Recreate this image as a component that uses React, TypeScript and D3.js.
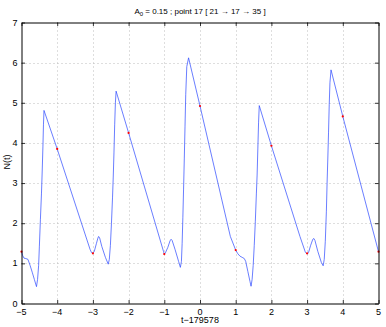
import { useEffect, useRef } from "react";
import * as d3 from "d3";

const tValues = [
  -5.0, -4.97, -4.93, -4.88, -4.82, -4.76, -4.7, -4.64, -4.58, -4.55, -4.52, -4.5, -4.47,
  -4.44, -4.42, -4.4, -4.385, -4.37, -4.0, -3.08, -3.04, -3.0, -2.96, -2.9, -2.86, -2.84,
  -2.81, -2.75, -2.65, -2.57, -2.54, -2.51, -2.48, -2.45, -2.43, -2.41, -2.39, -2.37,
  -2.35, -2.0, -1.02, -1.0, -0.97, -0.9, -0.84, -0.81, -0.78, -0.7, -0.6, -0.55, -0.52,
  -0.5, -0.48, -0.46, -0.44, -0.42, -0.4, -0.37, -0.32, 0.0, 0.85, 1.0, 1.06, 1.12, 1.18,
  1.24, 1.28, 1.34, 1.4, 1.43, 1.46, 1.49, 1.52, 1.55, 1.58, 1.6, 1.62, 1.64, 1.66, 2.0,
  2.8, 2.95, 3.0, 3.04, 3.1, 3.16, 3.19, 3.22, 3.3, 3.4, 3.45, 3.48, 3.51, 3.54, 3.56,
  3.58, 3.6, 3.62, 3.64, 3.67, 4.0, 5.0,
];
const nValues = [
  1.29, 1.2, 1.13, 1.12, 1.1, 0.95, 0.78, 0.6, 0.42, 0.6, 0.95, 1.41, 2.1,
  2.75, 3.3, 3.9, 4.45, 4.81, 3.85, 1.35, 1.27, 1.25, 1.3, 1.5, 1.63, 1.67,
  1.63, 1.42, 1.15, 0.98, 1.1, 1.45, 2.0, 2.65, 3.15, 3.75, 4.45, 5.0,
  5.29, 4.25, 1.29, 1.23, 1.26, 1.4, 1.56, 1.6, 1.57, 1.35, 1.05, 0.9, 1.05,
  1.5, 2.15, 2.85, 3.6, 4.4, 5.2, 5.9, 6.12, 4.92, 1.67, 1.33, 1.24, 1.18, 1.15,
  1.12, 1.05, 0.8, 0.55, 0.43, 0.6, 0.95, 1.45, 2.05, 2.75, 3.2, 3.85, 4.5, 4.93, 3.93,
  1.67, 1.28, 1.23, 1.27, 1.45, 1.6, 1.62, 1.57, 1.3, 1.02, 0.94, 1.1, 1.55, 2.3, 3.0,
  3.6, 4.25, 4.95, 5.5, 5.82, 4.66, 1.29,
];

// red markers at whole time steps
const markT = [-5, -4, -3, -2, -1, 0, 1, 2, 3, 4, 5];
const markN = [1.29, 3.85, 1.25, 4.25, 1.23, 4.92, 1.33, 3.93, 1.25, 4.66, 1.29];

const xTicks = [-5, -4, -3, -2, -1, 0, 1, 2, 3, 4, 5];
const yTicks = [0, 1, 2, 3, 4, 5, 6, 7];

const W = 386;
const H = 327;
const FONT = "'Liberation Sans', Arial, sans-serif";

export default function App() {
  const svgRef = useRef<SVGSVGElement>(null);

  useEffect(() => {
    const svg = d3.select(svgRef.current);
    svg.selectAll("*").remove();

    const left = 21.5, right = 378.5, top = 22.5, bottom = 303.5;

    const x = d3.scaleLinear().domain([-5, 5]).range([left, right]);
    const y = d3.scaleLinear().domain([0, 7]).range([bottom, top]);

    svg.append("rect").attr("width", W).attr("height", H).attr("fill", "#fff");

    // dotted grid
    const grid = svg.append("g").attr("stroke", "#bdbdbd").attr("stroke-dasharray", "1,3").attr("stroke-width", 1);
    xTicks.slice(1, -1).forEach((t) => {
      grid.append("line").attr("x1", Math.round(x(t)) + 0.5).attr("x2", Math.round(x(t)) + 0.5).attr("y1", top).attr("y2", bottom);
    });
    yTicks.slice(1, -1).forEach((v) => {
      grid.append("line").attr("y1", Math.round(y(v)) + 0.5).attr("y2", Math.round(y(v)) + 0.5).attr("x1", left).attr("x2", right);
    });

    // data line
    const line = d3
      .line<number>()
      .x((_, i) => x(tValues[i]))
      .y((d) => y(d));

    svg
      .append("path")
      .datum(nValues)
      .attr("fill", "none")
      .attr("stroke", "#2a46ff")
      .attr("stroke-width", 0.7)
      .attr("stroke-linejoin", "round")
      .attr("d", line);

    svg
      .append("g")
      .selectAll("circle")
      .data(markN)
      .enter()
      .append("circle")
      .attr("cx", (_, i) => x(markT[i]))
      .attr("cy", (d) => y(d))
      .attr("r", 1.1)
      .attr("fill", "#ff0000");

    // box with inward ticks (matlab style)
    const tick = 3.5;
    const axes = [
      { g: d3.axisBottom(x), tr: `translate(0,${bottom})` },
      { g: d3.axisTop(x), tr: `translate(0,${top})` },
      { g: d3.axisLeft(y), tr: `translate(${left},0)` },
      { g: d3.axisRight(y), tr: `translate(${right},0)` },
    ];
    axes.forEach(({ g, tr }, k) => {
      const isX = k < 2;
      const axis = (g as d3.Axis<number>)
        .tickValues(isX ? xTicks : yTicks)
        .tickSizeInner(-tick)
        .tickSizeOuter(0)
        .tickFormat(() => "");
      const sel = svg.append("g").attr("transform", tr).call(axis as any);
      sel.select(".domain").attr("stroke", "#000").attr("stroke-width", 1);
      sel.selectAll(".tick line").attr("stroke", "#000").attr("stroke-width", 0.8);
    });

    // tick labels
    svg
      .append("g")
      .selectAll("text")
      .data(xTicks)
      .enter()
      .append("text")
      .attr("x", (d) => x(d))
      .attr("y", bottom + 11)
      .attr("text-anchor", "middle")
      .attr("font-family", FONT)
      .attr("font-size", 9)
      .text((d) => (d < 0 ? `\u2212${-d}` : `${d}`));

    svg
      .append("g")
      .selectAll("text")
      .data(yTicks)
      .enter()
      .append("text")
      .attr("x", left - 4)
      .attr("y", (d) => y(d) + 3)
      .attr("text-anchor", "end")
      .attr("font-family", FONT)
      .attr("font-size", 9)
      .text((d) => `${d}`);

    // labels
    svg
      .append("text")
      .attr("x", (left + right) / 2)
      .attr("y", 323)
      .attr("text-anchor", "middle")
      .attr("font-family", FONT)
      .attr("font-size", 9)
      .text("t\u2212179578");

    svg
      .append("text")
      .attr("transform", `translate(10,162) rotate(-90)`)
      .attr("text-anchor", "middle")
      .attr("font-family", FONT)
      .attr("font-size", 9)
      .text("N(t)");

    const title = svg
      .append("text")
      .attr("x", (left + right) / 2)
      .attr("y", 14)
      .attr("text-anchor", "middle")
      .attr("font-family", FONT)
      .attr("font-size", 8);
    title.append("tspan").text("A");
    title.append("tspan").attr("dy", 2).attr("font-size", 6).text("0");
    title.append("tspan").attr("dy", -2).text(" = 0.15 ; point 17 [ 21 \u2192 17 \u2192 35 ]");
  }, []);

  return (
    <svg
      ref={svgRef}
      width={W}
      height={H}
      viewBox={`0 0 ${W} ${H}`}
      style={{ position: "absolute", left: 0, top: 0 }}
    />
  );
}
